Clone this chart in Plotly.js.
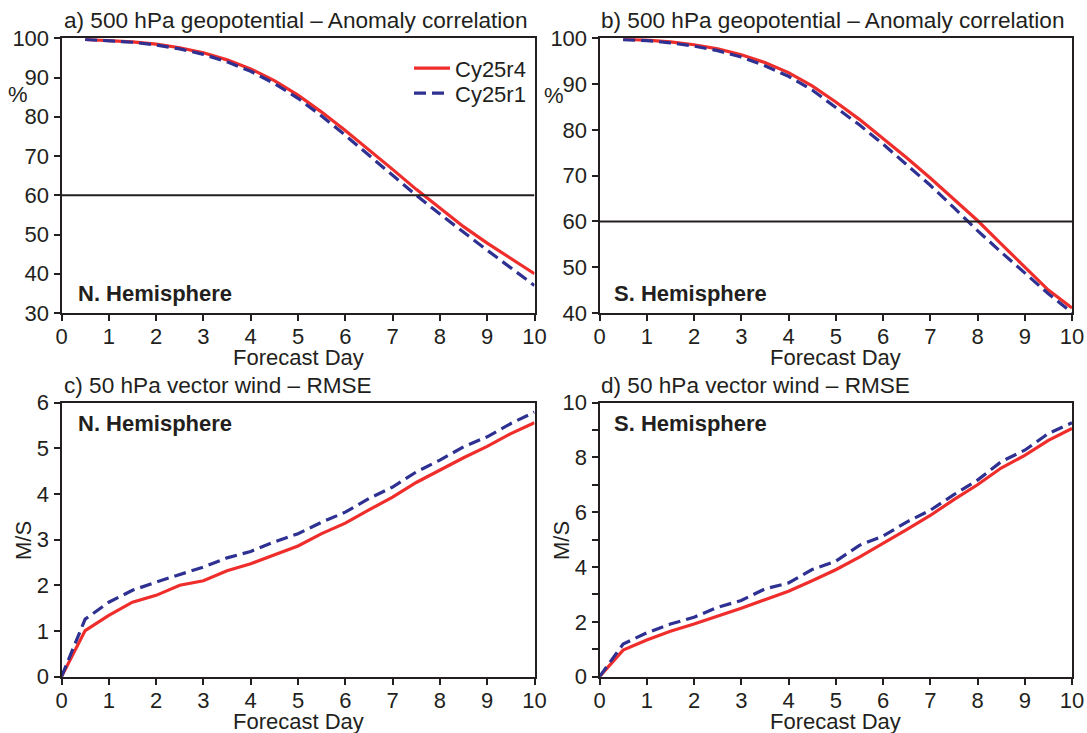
<!DOCTYPE html>
<html>
<head>
<meta charset="utf-8">
<script src="https://cdn.plot.ly/plotly-3.0.1.min.js"></script>
<style>html,body{margin:0;padding:0;background:#fff;}#chart{width:1087px;height:733px;}</style>
</head>
<body>
<div id="chart"></div>
<script>
// ---- data ----
const daysAC = [0.5,1,1.5,2,2.5,3,3.5,4,4.5,5,5.5,6,6.5,7,7.5,8,8.5,9,9.5,10];
const daysRMSE = [0,0.5,1,1.5,2,2.5,3,3.5,4,4.5,5,5.5,6,6.5,7,7.5,8,8.5,9,9.5,10];

const nhAC_r4 = [99.7,99.5,99.1,98.5,97.6,96.3,94.5,92.2,89.2,85.5,81.2,76.5,71.6,66.6,61.5,56.7,52.0,47.8,43.8,40.0];
const nhAC_r1 = [99.7,99.4,99.0,98.3,97.3,95.9,94.0,91.6,88.5,84.7,80.2,75.3,70.2,65.0,60.0,55.2,50.5,46.0,41.5,37.0];
const shAC_r4 = [99.8,99.6,99.2,98.6,97.7,96.4,94.7,92.5,89.6,86.1,82.3,78.2,73.9,69.5,64.9,60.2,55.1,50.0,45.0,41.1];
const shAC_r1 = [99.7,99.5,99.0,98.3,97.3,95.9,94.0,91.7,88.7,85.0,81.1,76.9,72.5,67.9,63.0,58.0,53.3,48.8,44.2,40.1];

const nhW_r4 = [0,1.01,1.34,1.63,1.78,2.0,2.1,2.32,2.47,2.67,2.86,3.13,3.36,3.65,3.93,4.25,4.52,4.79,5.04,5.32,5.56];
const nhW_r1 = [0,1.26,1.63,1.89,2.07,2.24,2.40,2.6,2.74,2.95,3.13,3.38,3.6,3.9,4.15,4.48,4.74,5.03,5.25,5.54,5.79];
const shW_r4 = [0,0.97,1.34,1.66,1.92,2.2,2.5,2.81,3.12,3.5,3.9,4.36,4.85,5.36,5.88,6.46,7.0,7.61,8.07,8.62,9.05];
const shW_r1 = [0,1.19,1.6,1.92,2.17,2.53,2.78,3.2,3.42,3.91,4.21,4.79,5.13,5.64,6.07,6.64,7.17,7.84,8.26,8.87,9.26];

const seriesNames = ['Cy25r4','Cy25r1'];
const panelTitles = ['a) 500 hPa geopotential – Anomaly correlation','b) 500 hPa geopotential – Anomaly correlation','c) 50 hPa vector wind – RMSE','d) 50 hPa vector wind – RMSE'];
const hemis = ['N. Hemisphere','S. Hemisphere','N. Hemisphere','S. Hemisphere'];
const xTitle = 'Forecast Day';
const refLine = 60;

// ---- styling ----
const W = 1087, H = 733;
const RED = '#ef2d2b', BLUE = '#2e3192', INK = '#231f20';
const FONT = '"Liberation Sans", Arial, Helvetica, sans-serif';
const px = v => v / W;
const py = v => 1 - v / H;

const xdomL = [px(61.5), px(534.5)], xdomR = [px(599.5), px(1072)];
const ydomT = [py(313), py(38.3)], ydomB = [py(676.7), py(402.5)];

function line(x, y, color, dash, xa, ya, name, show, leg) {
  const t = {x: x, y: y, type: 'scatter', mode: 'lines', name: name, showlegend: show,
    xaxis: xa, yaxis: ya, line: {color: color, width: 3.2, dash: dash}};
  if (leg) t.legend = leg;
  return t;
}
const DASH = '12px,6px';
const traces = [
  line(daysAC, nhAC_r4, RED, 'solid', 'x', 'y', seriesNames[0], true, 'legend'),
  line(daysAC, nhAC_r1, BLUE, DASH, 'x', 'y', seriesNames[1], true, 'legend2'),
  line(daysAC, shAC_r4, RED, 'solid', 'x2', 'y2', seriesNames[0], false),
  line(daysAC, shAC_r1, BLUE, DASH, 'x2', 'y2', seriesNames[1], false),
  line(daysRMSE, nhW_r4, RED, 'solid', 'x3', 'y3', seriesNames[0], false),
  line(daysRMSE, nhW_r1, BLUE, DASH, 'x3', 'y3', seriesNames[1], false),
  line(daysRMSE, shW_r4, RED, 'solid', 'x4', 'y4', seriesNames[0], false),
  line(daysRMSE, shW_r1, BLUE, DASH, 'x4', 'y4', seriesNames[1], false)
];

function xax(dom, anchor) {
  return {domain: dom, anchor: anchor, range: [0, 10], tickmode: 'linear', tick0: 0, dtick: 1,
    showline: true, mirror: true, linecolor: INK, linewidth: 2, ticks: 'outside', ticklen: 6,
    tickwidth: 2, tickcolor: INK, showgrid: false, zeroline: false, ticklabelstandoff: -3,
    tickfont: {size: 22, color: INK, family: FONT}};
}
function yax(dom, anchor, range, dtick, minor) {
  const a = {domain: dom, anchor: anchor, range: range, tickmode: 'linear', tick0: range[0], dtick: dtick,
    showline: true, mirror: true, linecolor: INK, linewidth: 2, ticks: 'outside', ticklen: 6,
    tickwidth: 2, tickcolor: INK, showgrid: false, zeroline: false,
    tickfont: {size: 22, color: INK, family: FONT}};
  if (minor) a.minor = {dtick: minor, tick0: 0, ticks: 'outside', ticklen: 6, tickwidth: 2, tickcolor: INK, showgrid: false};
  return a;
}

function ann(text, x, y, opts) {
  return Object.assign({text: text, xref: 'paper', yref: 'paper', x: x, y: y, showarrow: false,
    xanchor: 'left', yanchor: 'middle', font: {size: 22, color: INK, family: FONT}}, opts || {});
}
const TF = {size: 22.6, color: INK, family: FONT};

const annotations = [
  ann(panelTitles[0], px(61.5), py(21), {font: TF}),
  ann(panelTitles[1], px(599.5), py(21), {font: TF}),
  ann(panelTitles[2], px(61.5), py(385), {font: TF}),
  ann(panelTitles[3], px(599.5), py(385), {font: TF}),
  ann('<b>' + hemis[0] + '</b>', px(75.5), py(293)),
  ann('<b>' + hemis[1] + '</b>', px(612), py(293)),
  ann('<b>' + hemis[2] + '</b>', px(75.5), py(423)),
  ann('<b>' + hemis[3] + '</b>', px(612), py(423)),
  ann(xTitle, (xdomL[0] + xdomL[1]) / 2, py(357), {xanchor: 'center'}),
  ann(xTitle, (xdomR[0] + xdomR[1]) / 2, py(357), {xanchor: 'center'}),
  ann(xTitle, (xdomL[0] + xdomL[1]) / 2, py(721), {xanchor: 'center'}),
  ann(xTitle, (xdomR[0] + xdomR[1]) / 2, py(721), {xanchor: 'center'}),
  ann('%', px(17.5), py(94), {xanchor: 'center'}),
  ann('%', px(554), py(95), {xanchor: 'center'}),
  ann('M/S', px(23), py(541), {xanchor: 'center', textangle: -90}),
  ann('M/S', px(561), py(541), {xanchor: 'center', textangle: -90})
];

const shapes = [
  {type: 'line', xref: 'x', yref: 'y', x0: 0, x1: 10, y0: refLine, y1: refLine, line: {color: INK, width: 2}},
  {type: 'line', xref: 'x2', yref: 'y2', x0: 0, x1: 10, y0: refLine, y1: refLine, line: {color: INK, width: 2}}
];

function legendAt(topPx) {
  return {x: px(409), y: py(topPx), xanchor: 'left', yanchor: 'top', bgcolor: 'rgba(0,0,0,0)',
    borderwidth: 0, font: {size: 22, color: INK, family: FONT}, itemwidth: 36};
}

const layout = {
  width: W, height: H,
  margin: {l: 0, r: 0, t: 0, b: 0},
  paper_bgcolor: '#ffffff', plot_bgcolor: '#ffffff',
  font: {family: FONT, size: 22, color: INK},
  showlegend: true,
  legend: legendAt(47.3),
  legend2: legendAt(72.3),
  xaxis: xax(xdomL, 'y'),
  yaxis: yax(ydomT, 'x', [30, 100], 10),
  xaxis2: xax(xdomR, 'y2'),
  yaxis2: yax(ydomT, 'x2', [40, 100], 10),
  xaxis3: xax(xdomL, 'y3'),
  yaxis3: yax(ydomB, 'x3', [0, 6], 1),
  xaxis4: xax(xdomR, 'y4'),
  yaxis4: yax(ydomB, 'x4', [0, 10], 2, 1),
  annotations: annotations,
  shapes: shapes
};

Plotly.newPlot('chart', traces, layout, {displayModeBar: false, staticPlot: true});
</script>
</body>
</html>
